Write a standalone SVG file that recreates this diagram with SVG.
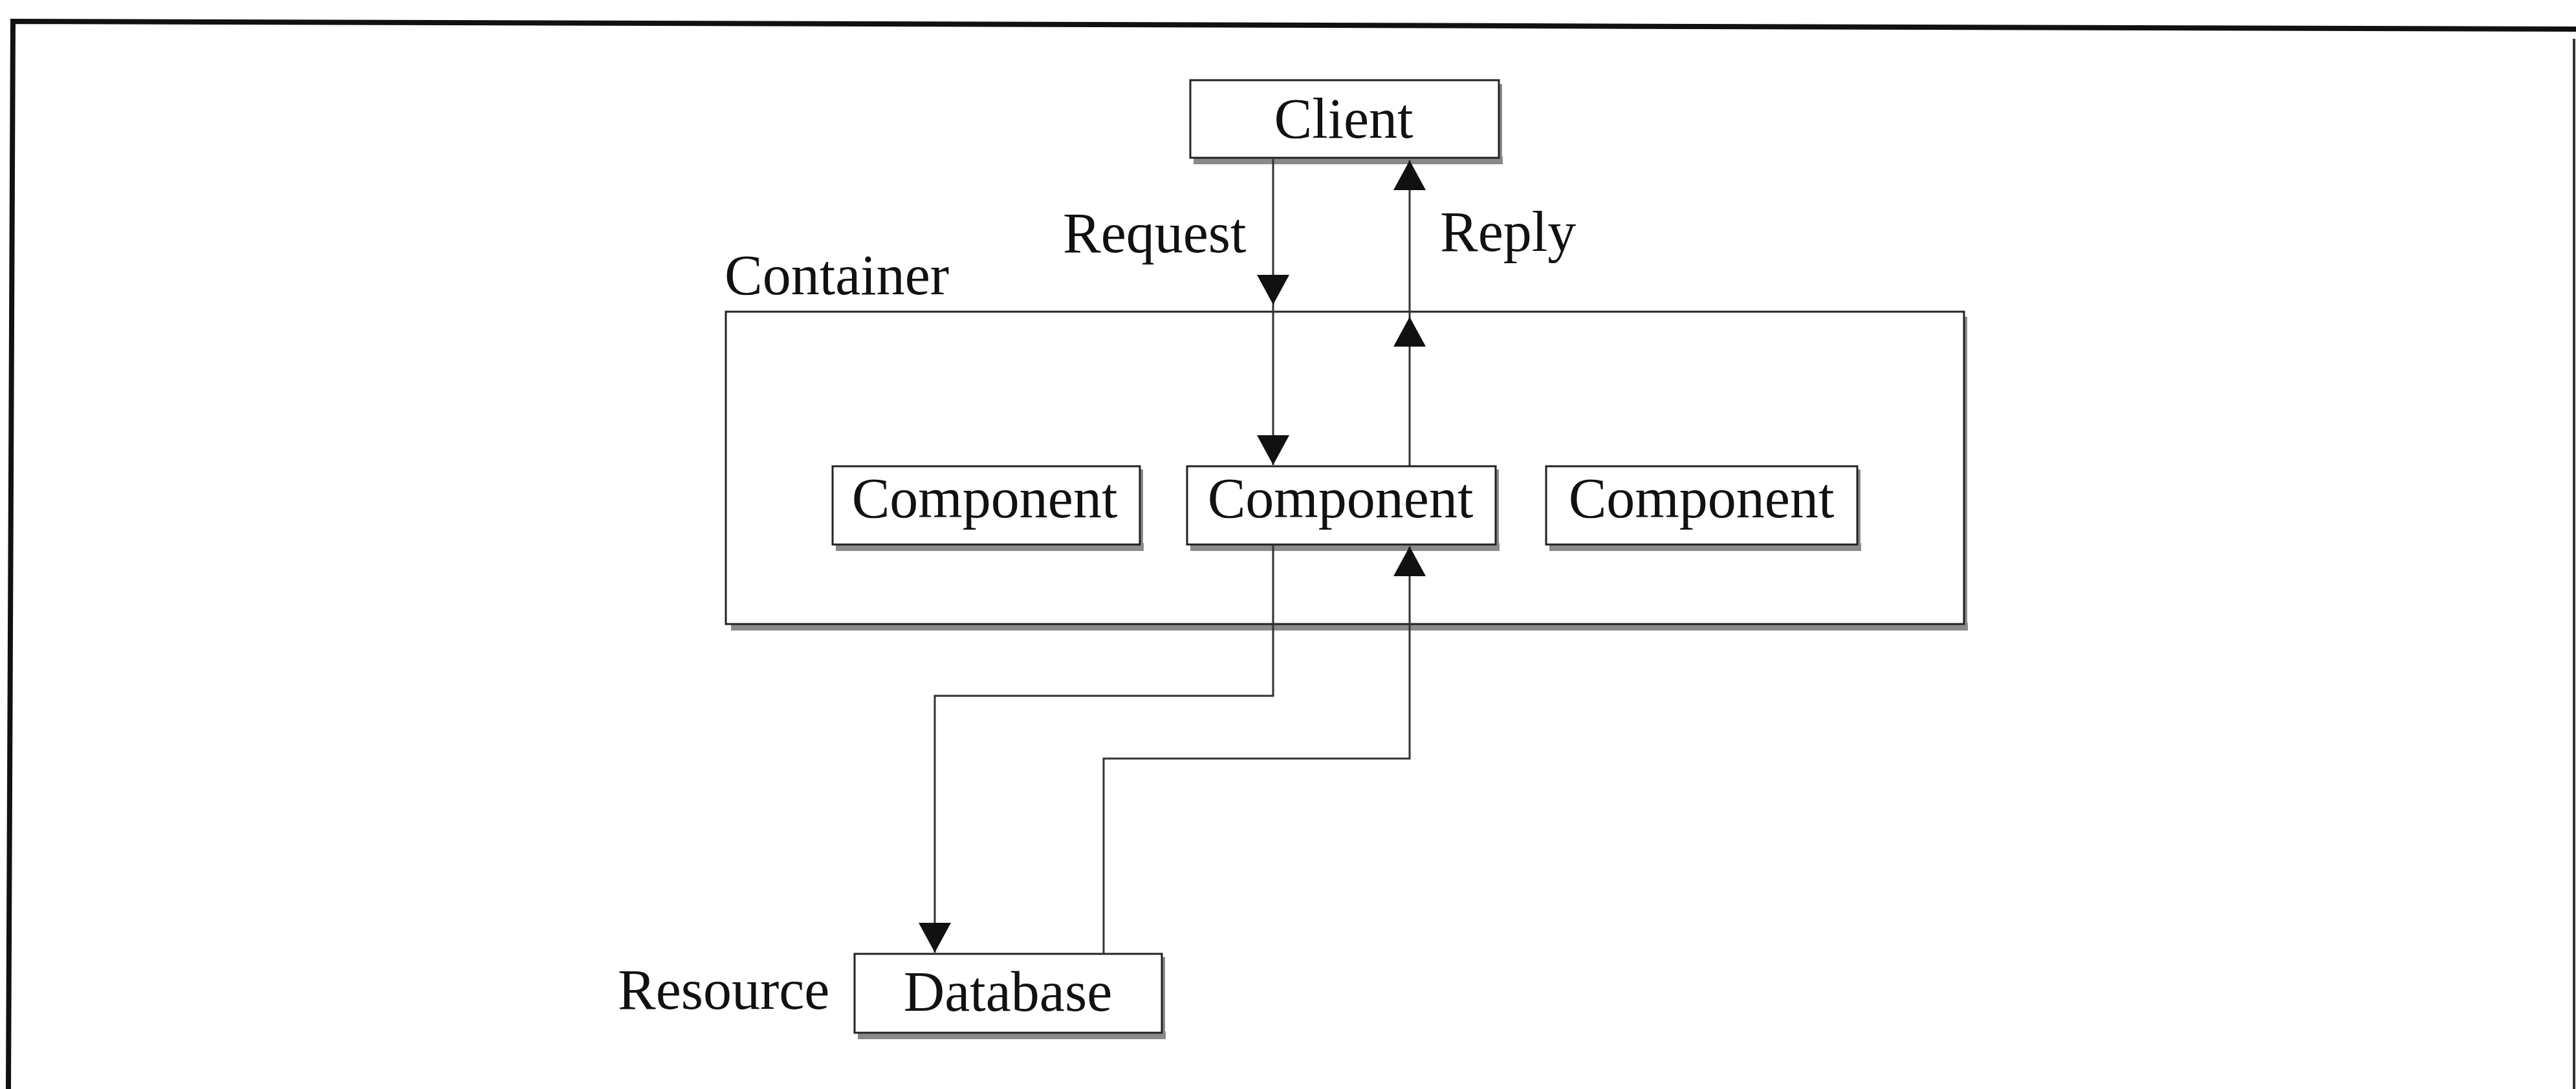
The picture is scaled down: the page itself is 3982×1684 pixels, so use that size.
<svg xmlns="http://www.w3.org/2000/svg" width="3982" height="1684" viewBox="0 0 3982 1684">
  <style>
    .lbl { font-family: "Liberation Serif", "Times New Roman", serif; font-size: 88px; fill: #111; }
    .mid { text-anchor: middle; }
    .box { fill: #fff; stroke: #222; stroke-width: 3; }
    .shadow { fill: #8a8a8a; }
    .edge { fill: none; stroke: #333; stroke-width: 3; }
    .frame { fill: none; stroke: #111; stroke-width: 8; }
  </style>
  <defs>
    <marker id="arrow" viewBox="0 0 46 50" refX="46" refY="25" markerWidth="46" markerHeight="50" markerUnits="userSpaceOnUse" orient="auto">
      <path d="M0,0 L46,25 L0,50 z" fill="#111"/>
    </marker>
  </defs>

  <rect width="3982" height="1684" fill="#fff"/>

  <!-- page frame -->
  <polyline class="frame" points="13,1684 20,33 3982,45"/>
  <line x1="3979" y1="60" x2="3979" y2="1684" stroke="#333" stroke-width="4"/>

  <!-- container -->
  <g id="container">
    <rect class="shadow" x="1130" y="963" width="1912" height="12"/>
    <rect class="shadow" x="3035" y="490" width="6" height="480"/>
    <rect class="box" x="1122" y="482" width="1914" height="483"/>
    <text class="lbl" x="1120" y="455">Container</text>
  </g>

  <!-- client -->
  <g id="client">
    <rect class="shadow" x="1845" y="242" width="478" height="12"/>
    <rect class="shadow" x="2316" y="130" width="6" height="120"/>
    <rect class="box" x="1840" y="124" width="477" height="120"/>
    <text class="lbl mid" x="2077" y="213">Client</text>
  </g>

  <!-- components -->
  <g id="component-left">
    <rect class="shadow" x="1292" y="840" width="476" height="12"/>
    <rect class="shadow" x="1761" y="726" width="6" height="120"/>
    <rect class="box" x="1287" y="721" width="475" height="121"/>
    <text class="lbl mid" x="1522" y="800">Component</text>
  </g>
  <g id="component-middle">
    <rect class="shadow" x="1840" y="840" width="478" height="12"/>
    <rect class="shadow" x="2311" y="726" width="6" height="120"/>
    <rect class="box" x="1835" y="721" width="477" height="121"/>
    <text class="lbl mid" x="2072" y="800">Component</text>
  </g>
  <g id="component-right">
    <rect class="shadow" x="2395" y="840" width="482" height="12"/>
    <rect class="shadow" x="2870" y="726" width="6" height="120"/>
    <rect class="box" x="2390" y="721" width="481" height="121"/>
    <text class="lbl mid" x="2630" y="800">Component</text>
  </g>

  <!-- database -->
  <g id="database">
    <rect class="shadow" x="1326" y="1595" width="476" height="12"/>
    <rect class="shadow" x="1795" y="1480" width="6" height="122"/>
    <rect class="box" x="1321" y="1475" width="475" height="122"/>
    <text class="lbl mid" x="1558" y="1563">Database</text>
    <text class="lbl" x="955" y="1560">Resource</text>
  </g>

  <!-- connectors -->
  <g id="connectors">
    <!-- request: client down to the middle component -->
    <path class="edge" d="M1968,246 V471" marker-end="url(#arrow)"/>
    <path class="edge" d="M1968,471 V719" marker-end="url(#arrow)"/>
    <!-- reply: middle component up to the client -->
    <path class="edge" d="M2179,720 V490" marker-end="url(#arrow)"/>
    <path class="edge" d="M2179,490 V248" marker-end="url(#arrow)"/>
    <!-- component to database -->
    <path class="edge" d="M1968,842 V1076 H1445 V1473" marker-end="url(#arrow)"/>
    <!-- database back to component -->
    <path class="edge" d="M1706,1475 V1173 H2179 V845" marker-end="url(#arrow)"/>
    <text class="lbl" x="1643" y="390">Request</text>
    <text class="lbl" x="2226" y="388">Reply</text>
  </g>
</svg>
